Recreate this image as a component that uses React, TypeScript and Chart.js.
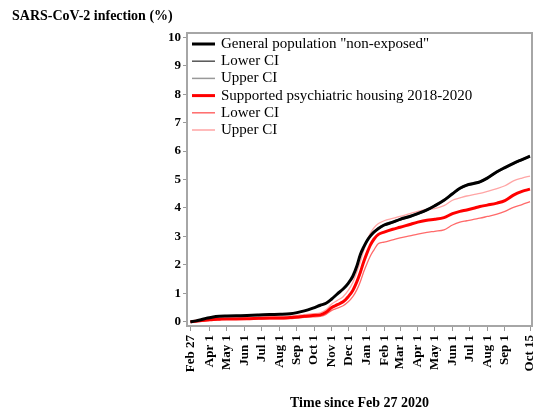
import React, { useEffect, useRef } from "react";
import { Chart, registerables } from "chart.js";

Chart.register(...registerables);

const days = [0,10,20,30,40,51,64,80,99,120,139,158,175,187,200,215,228,238,248,258,268,277,285,292,298,304,310,316,322,330,340,355,368,385,399,415,429,445,460,473,485,497,508,521,538,552,567,582,596];

const generalMain = [0,0.03,0.08,0.13,0.17,0.19,0.2,0.21,0.22,0.235,0.25,0.26,0.28,0.32,0.38,0.48,0.58,0.65,0.8,0.98,1.15,1.35,1.6,1.95,2.35,2.62,2.85,3.02,3.15,3.28,3.4,3.5,3.6,3.7,3.8,3.93,4.08,4.27,4.5,4.69,4.8,4.86,4.92,5.05,5.27,5.42,5.57,5.7,5.82];
const generalLower = [0,0.03,0.07,0.12,0.16,0.18,0.19,0.2,0.21,0.225,0.24,0.25,0.27,0.31,0.37,0.47,0.57,0.64,0.78,0.96,1.13,1.33,1.57,1.92,2.32,2.59,2.82,2.99,3.12,3.25,3.37,3.47,3.57,3.67,3.77,3.9,4.05,4.24,4.47,4.66,4.77,4.83,4.89,5.02,5.24,5.39,5.54,5.67,5.79];
const generalUpper = [0,0.03,0.09,0.14,0.18,0.2,0.21,0.22,0.23,0.245,0.26,0.27,0.29,0.33,0.39,0.49,0.59,0.66,0.82,1.0,1.17,1.37,1.63,1.98,2.38,2.65,2.88,3.05,3.18,3.31,3.43,3.53,3.63,3.73,3.83,3.96,4.11,4.3,4.53,4.72,4.83,4.89,4.95,5.08,5.3,5.45,5.6,5.73,5.85];

const housingMain = [0,0.02,0.04,0.06,0.08,0.09,0.1,0.1,0.105,0.12,0.13,0.13,0.15,0.17,0.19,0.22,0.24,0.33,0.5,0.6,0.7,0.88,1.1,1.4,1.72,2.1,2.42,2.7,2.9,3.07,3.15,3.25,3.32,3.42,3.5,3.57,3.6,3.66,3.8,3.88,3.93,3.99,4.05,4.1,4.17,4.26,4.45,4.58,4.66];
const housingLower = [0,0.01,0.03,0.04,0.06,0.07,0.08,0.08,0.085,0.09,0.1,0.1,0.11,0.13,0.15,0.17,0.19,0.26,0.4,0.48,0.56,0.7,0.88,1.12,1.4,1.75,2.05,2.32,2.52,2.75,2.8,2.88,2.95,3.02,3.08,3.14,3.18,3.23,3.4,3.5,3.55,3.6,3.64,3.7,3.78,3.88,4.02,4.12,4.22];
const housingUpper = [0,0.03,0.06,0.09,0.11,0.12,0.13,0.14,0.15,0.16,0.17,0.18,0.2,0.22,0.25,0.28,0.31,0.42,0.62,0.75,0.88,1.1,1.38,1.75,2.1,2.5,2.85,3.12,3.3,3.45,3.55,3.63,3.7,3.8,3.88,3.95,3.98,4.08,4.27,4.35,4.42,4.47,4.51,4.58,4.68,4.78,4.95,5.05,5.12];

const tickDays = [0,34,64,95,125,156,187,217,248,278,309,340,368,399,429,460,490,521,552,596];
const tickLabels = ["Feb 27","Apr 1","May 1","Jun 1","Jul 1","Aug 1","Sep 1","Oct 1","Nov 1","Dec 1","Jan 1","Feb 1","Mar 1","Apr 1","May 1","Jun 1","Jul 1","Aug 1","Sep 1","Oct 15"];
const yTicks = [0,1,2,3,4,5,6,7,8,9,10];

const seriesLabels = [
  'General population "non-exposed"',
  "Lower CI",
  "Upper CI",
  "Supported psychiatric housing 2018-2020",
  "Lower CI",
  "Upper CI",
];

const SERIF = '"Liberation Serif", "Times New Roman", serif';

const pts = (vals: number[]) => days.map((d, i) => ({ x: d, y: vals[i] }));

const framePlugin = {
  id: "frameAndLegend",
  afterDraw(chart: any) {
    const { ctx, chartArea } = chart;
    ctx.save();
    ctx.strokeStyle = "#a6a6a6";
    ctx.lineWidth = 2;
    ctx.strokeRect(chartArea.left, chartArea.top, chartArea.right - chartArea.left, chartArea.bottom - chartArea.top);
    // legend inside plot area
    const x0 = chartArea.left + 5;
    let y = chartArea.top + 11;
    ctx.font = `15px ${SERIF}`;
    ctx.textBaseline = "middle";
    ctx.fillStyle = "#000";
    chart.data.datasets.forEach((ds: any) => {
      ctx.beginPath();
      ctx.strokeStyle = ds.borderColor;
      ctx.lineWidth = ds.legendWidth;
      ctx.moveTo(x0, y);
      ctx.lineTo(x0 + 23, y);
      ctx.stroke();
      ctx.fillText(ds.label, x0 + 29, y);
      y += 17.2;
    });
    ctx.restore();
  },
};

export default function App() {
  const ref = useRef<HTMLCanvasElement>(null);
  useEffect(() => {
    if (!ref.current) return;
    const mk = (i: number, vals: number[], color: string, width: number, legendWidth: number, order: number) => ({
      label: seriesLabels[i],
      data: pts(vals),
      borderColor: color,
      backgroundColor: color,
      borderWidth: width,
      legendWidth,
      pointRadius: 0,
      cubicInterpolationMode: "monotone",
      fill: false,
      order,
    });
    const chart = new Chart(ref.current, {
      type: "line",
      data: {
        datasets: [
          mk(0, generalMain, "#000000", 3, 3, 0),
          mk(1, generalLower, "#555555", 1, 1.5, 2),
          mk(2, generalUpper, "#999999", 1, 1.5, 2),
          mk(3, housingMain, "#ff0000", 3, 3, 1),
          mk(4, housingLower, "#ff6a6a", 1.3, 1.5, 3),
          mk(5, housingUpper, "#ffa5a5", 1.3, 1.5, 3),
        ] as any,
      },
      options: {
        animation: false,
        responsive: false,
        maintainAspectRatio: false,
        layout: { padding: { left: 12, right: 8, top: 0, bottom: 0 } },
        plugins: {
          legend: { display: false },
          tooltip: { enabled: false },
          title: {
            display: true,
            text: "SARS-CoV-2 infection (%)",
            align: "start",
            color: "#000",
            font: { family: SERIF, size: 14, weight: "bold" },
            padding: { top: 8, bottom: 8.2 },
          },
        },
        scales: {
          x: {
            type: "linear",
            min: -6,
            max: 599.5,
            afterBuildTicks: (scale: any) => {
              scale.ticks = tickDays.map((v) => ({ value: v }));
            },
            afterFit: (scale: any) => {
              scale.height = 87;
              scale.paddingLeft = 0;
              scale.paddingRight = 0;
            },
            ticks: {
              autoSkip: false,
              minRotation: 90,
              maxRotation: 90,
              padding: 4,
              color: "#000",
              font: { family: SERIF, size: 13, weight: "bold" },
              callback: (v: any) => {
                const i = tickDays.indexOf(Number(v));
                return i >= 0 ? tickLabels[i] : "";
              },
            },
            grid: { drawOnChartArea: false, tickLength: 5, color: "#999999" },
            border: { display: false },
            title: {
              display: true,
              text: "Time since Feb 27 2020",
              color: "#000",
              font: { family: SERIF, size: 14, weight: "bold" },
              padding: { top: 0, bottom: 1 },
            },
          },
          y: {
            min: -0.15,
            max: 10.15,
            afterBuildTicks: (scale: any) => {
              scale.ticks = yTicks.map((v) => ({ value: v }));
            },
            afterFit: (scale: any) => {
              scale.width = 175;
              scale.paddingTop = 0;
              scale.paddingBottom = 0;
            },
            ticks: {
              padding: 2,
              color: "#000",
              font: { family: SERIF, size: 13, weight: "bold" },
            },
            grid: { drawOnChartArea: false, tickLength: 4, color: "#999999" },
            border: { display: false },
          },
        },
      },
      plugins: [framePlugin],
    });
    return () => chart.destroy();
  }, []);
  return (
    <div style={{ position: "fixed", left: 0, top: 0, width: 540, height: 413, background: "#fff" }}>
      <canvas ref={ref} width={540} height={413} style={{ width: 540, height: 413, display: "block" }} />
    </div>
  );
}
